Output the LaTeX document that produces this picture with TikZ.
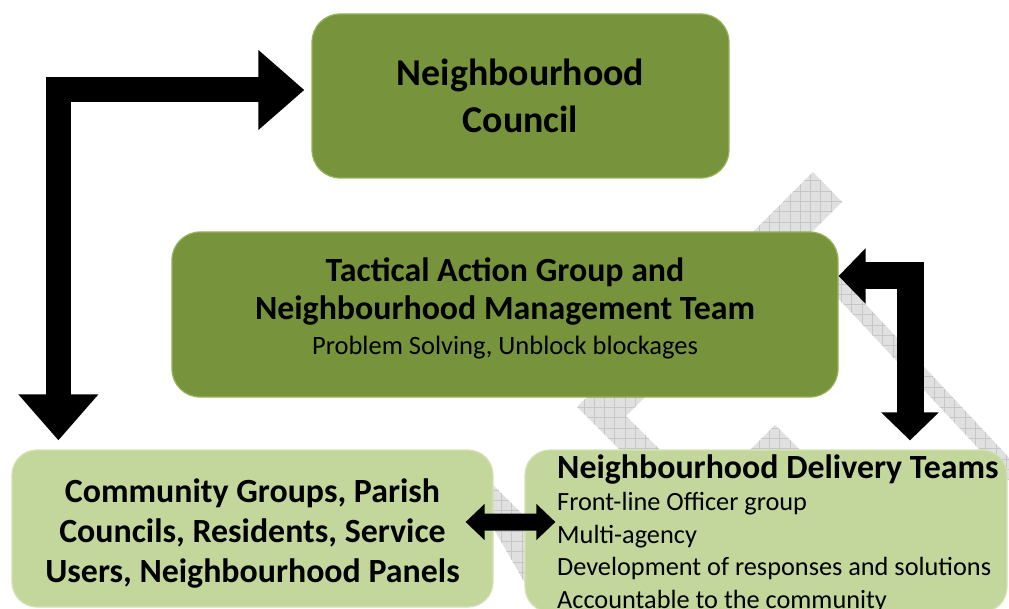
\documentclass[tikz,border=0pt]{standalone}
\usepackage{fontspec}
\setmainfont{Carlito}
\usepackage{tikz}
\usetikzlibrary{arrows.meta,positioning,calc}

\definecolor{olivedark}{RGB}{119,147,60}
\definecolor{oliveedge}{RGB}{150,180,90}
\definecolor{olivelight}{RGB}{195,214,155}
\definecolor{olivelightedge}{RGB}{212,226,180}
\definecolor{hatchfill}{RGB}{224,224,224}
\definecolor{hatchline}{RGB}{198,198,198}

\begin{document}
\begin{tikzpicture}[
x=1bp, y=-1bp,
darkbox/.style={draw=oliveedge, line width=1.2bp, fill=olivedark, rounded corners=28bp, align=center},
lightbox/.style={draw=olivelightedge, line width=1.2bp, fill=olivelight, rounded corners=25bp, align=center},
bigarr/.style={line width=25bp, {Triangle[length=46bp,width=77bp]}-{Triangle[length=46bp,width=77bp]}},
sidearr/.style={line width=27bp, {Triangle[length=27bp,width=54bp]}-{Triangle[length=28bp,width=56bp]}},
midarr/.style={line width=17bp, {Triangle[length=19bp,width=35bp]}-{Triangle[length=19bp,width=35bp]}}
]
\useasboundingbox (0,0) rectangle (1009,609);
\fill[white] (0,0) rectangle (1009,609);

% hatched band in the background
\begin{scope}
\clip (813,172) -- (842,202) -- (626,416) -- (706,496) -- (666,496) -- (577,407) -- cycle
      (775,425) -- (805,455) -- (775,485) -- (745,455) -- cycle
      (790,247) -- (812,247) -- (1030,480) -- (1008,480) -- cycle
      (480,472) -- (530,522) -- (530,592) -- (480,505) -- cycle;
\fill[hatchfill] (450,150) rectangle (1009,609);
\foreach \gx in {450,460.3,...,1009} \draw[hatchline, line width=0.8bp] (\gx,150) -- (\gx,609);
\foreach \gy in {150,160.3,...,609} \draw[hatchline, line width=0.8bp] (450,\gy) -- (1009,\gy);
\end{scope}

% boxes
\node[darkbox, minimum width=417bp, minimum height=164bp,
      font=\fontsize{38}{47}\selectfont\bfseries] (council) at (520.5,96) {Neighbourhood\\Council};
\node[darkbox, minimum width=666bp, minimum height=165bp] (tactical) at (505,314.5) {};
\node[inner sep=0pt, align=center, font=\fontsize{34}{38}\selectfont\bfseries] (tacticaltext)
      at ([yshift=6bp]tactical.center)
      {Tactical Action Group and\\Neighbourhood Management Team\\[-2bp]{\fontsize{26.6}{36}\selectfont\mdseries Problem Solving, Unblock blockages}};
\node[lightbox, minimum width=481bp, minimum height=157bp] (community) at (252.5,528.5) {};
\node[inner sep=0pt, align=center, font=\fontsize{34}{40}\selectfont\bfseries] (communitytext)
      at ([yshift=-5bp]community.center)
      {Community Groups, Parish\\Councils, Residents, Service\\Users, Neighbourhood Panels};
\node[lightbox, minimum width=482bp, minimum height=162bp] (delivery) at (766,531) {};
\node[inner sep=0pt, anchor=base west, align=left, font=\fontsize{26.4}{32.5}\selectfont] (deliverytext)
      at (557,608)
      {{\fontsize{34}{34}\selectfont\bfseries Neighbourhood Delivery Teams}\\Front-line Officer group\\Multi-agency\\Development of responses and solutions\\Accountable to the community};

% arrows
\draw[bigarr] ([xshift=-7bp,yshift=6bp]council.west) -| ([xshift=47bp,yshift=9bp]community.north west);
\draw[sidearr] ([yshift=38.5bp]tactical.east) -| ([xshift=144bp,yshift=9bp]delivery.north);
\draw[midarr] ([xshift=-28bp,yshift=6.5bp]community.east) -- ([xshift=31bp,yshift=9bp]delivery.west);
\end{tikzpicture}
\end{document}
